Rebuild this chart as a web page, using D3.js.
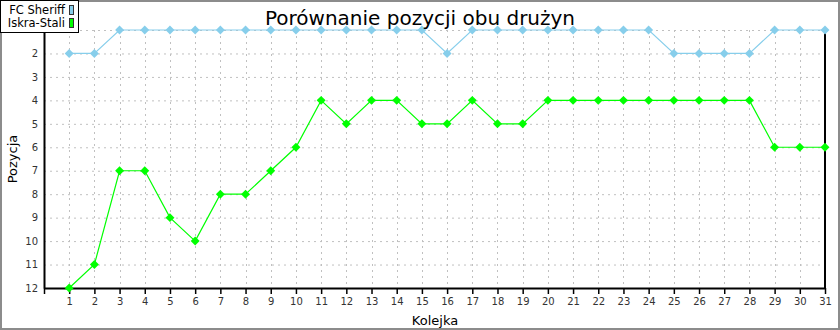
<!DOCTYPE html>
<html>
<head>
<meta charset="utf-8">
<script src="https://cdn.jsdelivr.net/npm/d3@7"></script>
<style>
body { margin:0; background:#fff; }
text { font-family:"DejaVu Sans", sans-serif; }
</style>
</head>
<body>
<svg id="graph"></svg>
<script>
// data
let kolejki = d3.range(1,32)
let sheriff = [2,2,1,1,1,1,1,1,1,1,1,1,1,1,1,2,1,1,1,1,1,1,1,1,2,2,2,2,1,1,1]
let iskra = [12,11,7,7,9,10,8,8,7,6,4,5,4,4,5,5,4,5,5,4,4,4,4,4,4,4,4,4,6,6,6]
let yticks = d3.range(1,13)
let series = [
    {name:"FC Sheriff",values:sheriff,color:"#87ceeb"},
    {name:"Iskra-Stali",values:iskra,color:"#00ff00"}
]

let w = 840;
let h = 330;

// plot area
let leftmargin = 44;
let rightmargin = 15;
let topmargin = 30;
let downmargin = 42;

let plotw = w-leftmargin-rightmargin;
let ploth = h-topmargin-downmargin;

let graph = d3.select("#graph")
    .attr("width",w)
    .attr("height",h)

graph.append("rect")
    .attr("x",1).attr("y",1)
    .attr("width",w-2).attr("height",h-2)
    .attr("fill","#fff")
    .attr("stroke","#8c8c8c")
    .attr("stroke-width",2)

let xscale = d3.scaleLinear()
    .domain([0,31])
    .range([0,plotw])

let yscale = d3.scaleLinear()
    .domain([1,12])
    .range([0,ploth])

let plot = graph.append("g")
    .attr("transform",`translate(${leftmargin},${topmargin})`)

// grid
plot.append("g").selectAll("line")
    .data(yticks)
    .enter().append("line")
    .attr("x1",0).attr("x2",plotw)
    .attr("y1",d=>yscale(d)+0.5).attr("y2",d=>yscale(d)+0.5)
    .attr("stroke","#c0c0c0")
    .attr("stroke-dasharray","2,4")

plot.append("g").selectAll("line")
    .data(kolejki)
    .enter().append("line")
    .attr("x1",d=>Math.round(xscale(d))+0.5).attr("x2",d=>Math.round(xscale(d))+0.5)
    .attr("y1",0).attr("y2",ploth)
    .attr("stroke","#c0c0c0")
    .attr("stroke-dasharray","2,4")

// axes
let xaxis = d3.axisBottom(xscale).tickValues(d3.range(0,32)).tickSize(6).tickSizeOuter(0)
    .tickFormat(d=>d==0?"":d)
let xaxisg = plot.append("g")
    .attr("transform",`translate(0,${ploth})`)
    .call(xaxis)
xaxisg.select(".domain").attr("stroke","#000").attr("stroke-width",2)
xaxisg.selectAll(".tick line").attr("stroke","#000").attr("stroke-width",1.5)
xaxisg.selectAll(".tick text")
    .attr("y",10)
    .style("font-size","10px")
    .attr("fill","#333")

// label "1" sits under the legend in the original, so it is left out
let yaxis = d3.axisLeft(yscale).tickValues(yticks).tickSize(0).tickPadding(6)
    .tickFormat(d=>d==1?"":d)
let yaxisg = plot.append("g")
    .call(yaxis)
yaxisg.select(".domain").attr("stroke","#000").attr("stroke-width",2)
yaxisg.selectAll(".tick text")
    .style("font-size","10px")
    .attr("fill","#333")

plot.append("line")
    .attr("x1",xscale(31)).attr("x2",xscale(31))
    .attr("y1",yscale(1)).attr("y2",ploth)
    .attr("stroke","#000")
    .attr("stroke-width",2)

// series
let line = d3.line()
    .x((d,i)=>xscale(kolejki[i]))
    .y(d=>yscale(d))

let diamond = d3.symbol().type(d3.symbolSquare).size(40)

series.forEach(s=>{
    plot.append("path")
        .attr("d",line(s.values))
        .attr("fill","none")
        .attr("stroke",s.color)
        .attr("stroke-width",1.2)
    plot.append("g").selectAll("path")
        .data(s.values)
        .enter().append("path")
        .attr("d",diamond)
        .attr("transform",(d,i)=>`translate(${xscale(kolejki[i])},${yscale(d)}) rotate(45)`)
        .attr("fill",s.color)
})

// titles
graph.append("text")
    .text("Porównanie pozycji obu drużyn")
    .attr("x",w/2)
    .attr("y",25)
    .attr("text-anchor","middle")
    .style("font-size","20px")

graph.append("text")
    .text("Kolejka")
    .attr("x",435)
    .attr("y",325)
    .attr("text-anchor","middle")
    .style("font-size","13px")

graph.append("text")
    .text("Pozycja")
    .attr("transform","translate(17,159) rotate(-90)")
    .attr("text-anchor","middle")
    .style("font-size","13px")

// legend
let legend = graph.append("g")
legend.append("rect")
    .attr("x",0.5).attr("y",0.5)
    .attr("width",78).attr("height",32)
    .attr("fill","#fff")
    .attr("stroke","#000")

let items = legend.selectAll("g")
    .data(series)
    .enter().append("g")
    .attr("transform",(d,i)=>`translate(0,${i*13})`)

items.append("text")
    .text(d=>d.name)
    .attr("x",65)
    .attr("y",14)
    .attr("text-anchor","end")
    .style("font-size","11.5px")

items.append("rect")
    .attr("x",69.5).attr("y",5.5)
    .attr("width",4).attr("height",9)
    .attr("fill",d=>d.color)
    .attr("stroke","#333")
</script>
</body>
</html>
